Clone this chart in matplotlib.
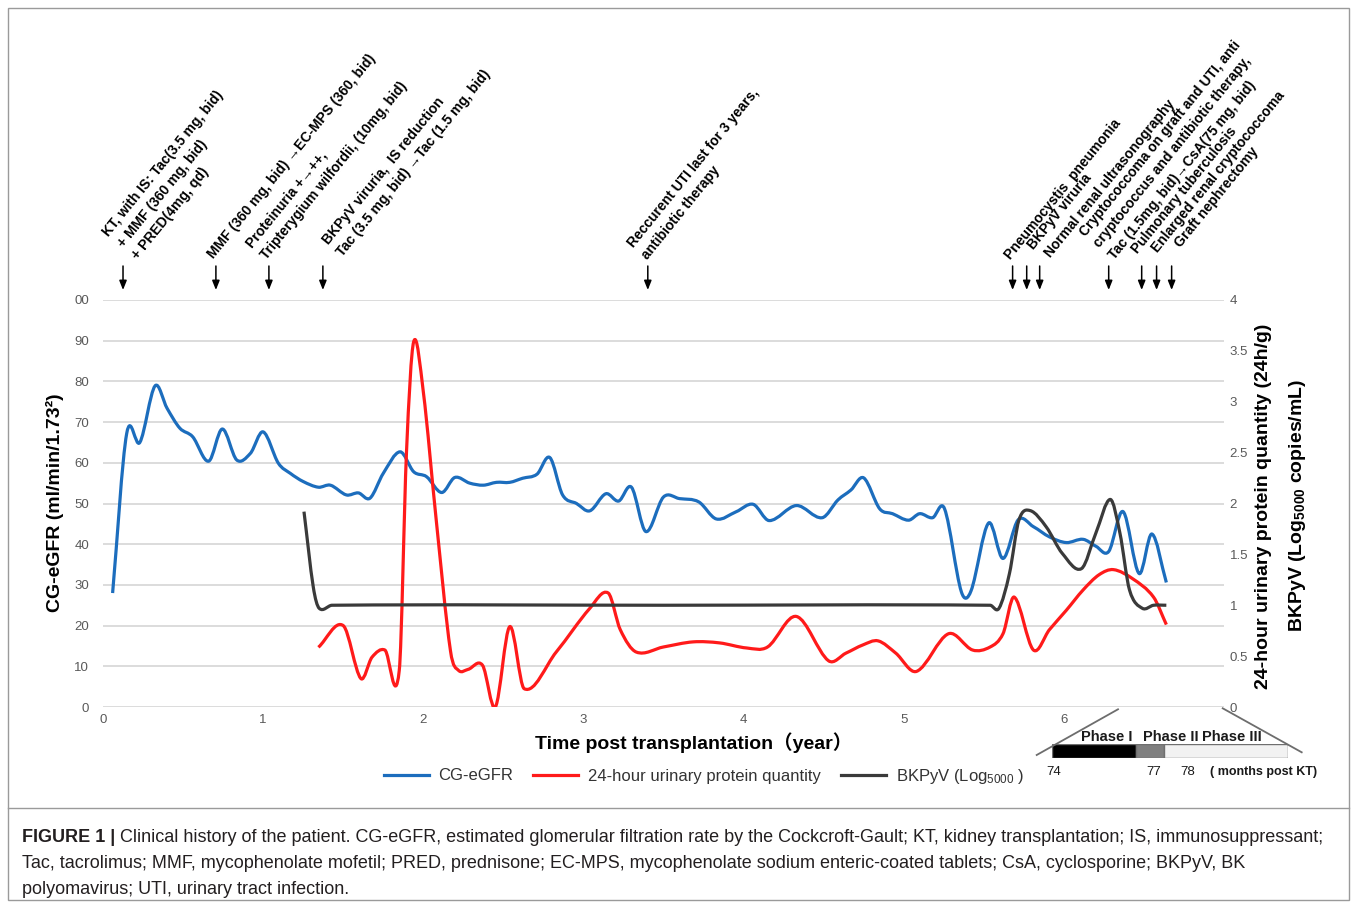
import matplotlib
matplotlib.use('Agg')
import matplotlib.pyplot as plt
import matplotlib.transforms as mtransforms
from matplotlib.path import Path
from matplotlib.patches import PathPatch, Rectangle
from matplotlib.lines import Line2D
import numpy as np

plt.rcParams['font.family'] = ['Liberation Sans', 'DejaVu Sans']
plt.rcParams['mathtext.fontset'] = 'custom'
plt.rcParams['mathtext.rm'] = 'Liberation Sans'
plt.rcParams['mathtext.bf'] = 'Liberation Sans:bold'
plt.rcParams['mathtext.it'] = 'Liberation Sans:italic'

# ---------------- data ----------------
egfr_years = [0.06, 0.148, 0.23, 0.325, 0.40, 0.48, 0.56, 0.66, 0.745, 0.835, 0.92, 1.0,
              1.095, 1.17, 1.25, 1.345, 1.42, 1.52, 1.595, 1.667, 1.75, 1.855, 1.94, 2.02,
              2.115, 2.197, 2.29, 2.375, 2.457, 2.54, 2.62, 2.71, 2.79, 2.87, 2.957, 3.04,
              3.14, 3.22, 3.30, 3.39, 3.50, 3.60, 3.72, 3.83, 3.955, 4.06, 4.16, 4.33,
              4.49, 4.59, 4.67, 4.75, 4.85, 4.93, 5.03, 5.10, 5.18, 5.255, 5.36, 5.42,
              5.53, 5.62, 5.715, 5.81, 5.91, 6.015, 6.12, 6.20, 6.28, 6.37, 6.47, 6.55, 6.64]
egfr_values = [28, 67.2, 65, 78.9, 73.4, 68.5, 66.4, 60.4, 68.3, 60.7, 62.3, 67.6,
               59.9, 57.4, 55.4, 54, 54.5, 52.1, 52.6, 51.3, 57.4, 62.7, 57.8, 56.6,
               52.7, 56.4, 55, 54.5, 55.2, 55.2, 56.2, 57.2, 61.3, 52.1, 50, 48.2,
               52.4, 50.6, 54, 43.1, 51.6, 51.2, 50.4, 46.2, 48, 49.8, 45.8, 49.5,
               46.5, 50.9, 53.3, 56.3, 48.7, 47.5, 45.9, 47.5, 46.5, 48.7, 28.3, 28.5,
               45.2, 36.5, 46, 44.3, 41.8, 40.4, 41.2, 39.5, 38.2, 48, 32.8, 42.5, 30.6]

protein_years = [1.345, 1.50, 1.61, 1.68, 1.76, 1.85, 1.895, 1.94, 2.0, 2.08, 2.17, 2.22,
                 2.28, 2.37, 2.45, 2.54, 2.63, 2.83, 3.04, 3.155, 3.23, 3.33, 3.50, 3.685,
                 3.85, 4.02, 4.15, 4.33, 4.53, 4.64, 4.745, 4.84, 4.95, 5.08, 5.28, 5.43,
                 5.54, 5.62, 5.69, 5.81, 5.91, 6.015, 6.12, 6.22, 6.31, 6.43, 6.56, 6.64]
protein_values = [0.587, 0.80, 0.28, 0.49, 0.56, 0.36, 2.5, 3.59, 3.1, 1.85, 0.55, 0.36,
                  0.37, 0.41, 0.0, 0.79, 0.18, 0.54, 0.97, 1.12, 0.76, 0.54, 0.59, 0.64,
                  0.63, 0.58, 0.59, 0.89, 0.455, 0.53, 0.61, 0.65, 0.53, 0.35, 0.72, 0.56,
                  0.59, 0.72, 1.08, 0.56, 0.76, 0.95, 1.15, 1.30, 1.35, 1.26, 1.08, 0.81]

bkpyv_years = [1.255, 1.313, 1.35, 1.43, 3.5, 5.54, 5.595, 5.66, 5.72, 5.79, 5.89, 5.99,
               6.11, 6.20, 6.29, 6.35, 6.41, 6.49, 6.56, 6.64]
bkpyv_values = [1.92, 1.18, 0.97, 1.0, 1.0, 1.0, 0.97, 1.31, 1.84, 1.93, 1.77, 1.51,
                1.36, 1.71, 2.04, 1.71, 1.15, 0.97, 1.0, 1.0]

x_ticks = [0, 1, 2, 3, 4, 5, 6]
left_ticks = [0, 10, 20, 30, 40, 50, 60, 70, 80, 90, 100]
left_tick_labels = ['0', '10', '20', '30', '40', '50', '60', '70', '80', '90', '00']
right_ticks = [0, 0.5, 1, 1.5, 2, 2.5, 3, 3.5, 4]
right_tick_labels = ['0', '0.5', '1', '1.5', '2', '2.5', '3', '3.5', '4']

event_years = [0.125, 0.705, 1.036, 1.373, 3.402, 5.680, 5.768, 5.849, 6.280, 6.486, 6.579, 6.673]
event_labels = [
    "KT, with IS: Tac(3.5 mg, bid)\n+ MMF (360 mg, bid)\n+ PRED(4mg, qd)",
    "MMF (360 mg, bid) \u2192EC-MPS (360, bid)",
    "Proteinuria +\u2192++,\nTripterygium wilfordii, (10mg, bid)",
    "BKPyV viruria,  IS reduction\nTac (3.5 mg, bid) \u2192Tac (1.5 mg, bid)",
    "Reccurent UTI last for 3 years,\nantibiotic therapy",
    "Pneumocystis  pneumonia",
    "BKPyV viruria",
    "Normal renal ultrasonography",
    "Cryptococcoma on graft and UTI, anti\ncryptococcus and antibiotic therapy,\nTac (1.5mg, bid)\u2192CsA(75 mg, bid)",
    "Pulmonary tuberculosis",
    "Enlarged renal cryptococcoma",
    "Graft nephrectomy",
]

phase_bounds = [74, 77, 78, 82.4]
phase_names = ['Phase I', 'Phase II', 'Phase III']
month_labels = ['74', '77', '78']

series_names = ['CG-eGFR', '24-hour urinary protein quantity', 'BKPyV (Log$_{5000}$ )']

caption_bold = 'FIGURE 1 |'
caption_lines = [
    " Clinical history of the patient. CG-eGFR, estimated glomerular filtration rate by the Cockcroft-Gault; KT, kidney transplantation; IS, immunosuppressant;",
    "Tac, tacrolimus; MMF, mycophenolate mofetil; PRED, prednisone; EC-MPS, mycophenolate sodium enteric-coated tablets; CsA, cyclosporine; BKPyV, BK",
    "polyomavirus; UTI, urinary tract infection.",
]

# ---------------- styling ----------------
BLUE = '#1c6dbd'
RED = '#ff1a1a'
DARK = '#3a3a3a'
GRID = '#d9d9d9'
TICK = '#595959'

W, H = 1357, 908
fig = plt.figure(figsize=(W / 100, H / 100), dpi=100)


def fx(px):
    return px / W


def fy(py):
    return 1 - py / H


def smooth_path(x, y):
    x = np.asarray(x, float)
    y = np.asarray(y, float)
    n = len(x)
    m = np.zeros(n)
    for i in range(n):
        if i == 0:
            m[i] = (y[1] - y[0]) / (x[1] - x[0])
        elif i == n - 1:
            m[i] = (y[-1] - y[-2]) / (x[-1] - x[-2])
        else:
            m[i] = (y[i + 1] - y[i - 1]) / (x[i + 1] - x[i - 1])
    verts = [(x[0], y[0])]
    codes = [Path.MOVETO]
    for i in range(n - 1):
        h = x[i + 1] - x[i]
        verts += [(x[i] + h / 3, y[i] + m[i] * h / 3),
                  (x[i + 1] - h / 3, y[i + 1] - m[i + 1] * h / 3),
                  (x[i + 1], y[i + 1])]
        codes += [Path.CURVE4] * 3
    return Path(verts, codes)


ax = fig.add_axes([fx(103), fy(707), (1224 - 103) / W, (707 - 300) / H])
ax.set_xlim(0, 7)
ax.set_ylim(0, 100)
ax2 = ax.twinx()
ax2.set_ylim(0, 4)

for a in (ax, ax2):
    for s in a.spines.values():
        s.set_visible(False)
    a.tick_params(length=0)

ax.set_axisbelow(True)
ax.yaxis.grid(True, color=GRID, lw=1.3)
ax.set_xticks(x_ticks)
ax.set_xticklabels([str(v) for v in x_ticks])
ax.set_yticks(left_ticks)
ax.set_yticklabels(left_tick_labels)
ax.tick_params(axis='y', pad=10, labelsize=9.5, labelcolor=TICK)
ax.tick_params(axis='x', pad=5, labelsize=9.5, labelcolor=TICK)
ax2.set_yticks(right_ticks)
ax2.set_yticklabels(right_tick_labels)
ax2.tick_params(axis='y', pad=4, labelsize=9.5, labelcolor=TICK)

lw = 2.3
ax.add_patch(PathPatch(smooth_path(egfr_years, egfr_values), fill=False, edgecolor=BLUE,
                       lw=lw, capstyle='butt', joinstyle='round', zorder=3))
ax2.add_patch(PathPatch(smooth_path(protein_years, protein_values), fill=False, edgecolor=RED,
                        lw=lw, capstyle='butt', joinstyle='round', zorder=3))
ax2.add_patch(PathPatch(smooth_path(bkpyv_years, bkpyv_values), fill=False, edgecolor=DARK,
                        lw=lw, capstyle='butt', joinstyle='round', zorder=4))

# axis labels
fig.text(fx(55), fy(503), 'CG-eGFR (ml/min/1.73\u00b2)', rotation=90, ha='center', va='center',
         fontsize=14, fontweight='bold')
fig.text(fx(1263), fy(506), '24-hour urinary protein quantity (24h/g)', rotation=90,
         ha='center', va='center', fontsize=14, fontweight='bold')
fig.text(fx(1298), fy(505), r'BKPyV (Log$_{\mathbf{5000}}$ copies/mL)', rotation=90,
         ha='center', va='center', fontsize=14, fontweight='bold')
fig.text(fx(694), fy(743), 'Time post transplantation\uff08year\uff09', ha='center', va='center',
         fontsize=14, fontweight='bold', family=['Liberation Sans', 'Noto Sans CJK SC'])

# event arrows and labels
blend = mtransforms.blended_transform_factory(ax.transData, ax.transAxes)
axes_h = 407.0
label_dx = [17, 0, 0, 22, 2, 0, 9, 13, 8, -2, 3, 11]
label_dy = [38, 39, 38, 41, 38, 38, 48, 40, 38, 44, 45, 50]
for t, lab, dx, dy in zip(event_years, event_labels, label_dx, label_dy):
    ax.annotate('', xy=(t, 1 + 10 / axes_h), xytext=(t, 1 + 34 / axes_h),
                xycoords=blend, textcoords=blend, annotation_clip=False,
                arrowprops=dict(arrowstyle='-|>,head_length=0.55,head_width=0.22',
                                color='black', lw=1.1, shrinkA=0, shrinkB=0))
    ax.annotate(lab, xy=(t, 1), xycoords=blend, xytext=(dx, dy), textcoords='offset pixels',
                rotation=51, rotation_mode='anchor', ha='left', va='bottom',
                fontsize=10, fontweight='bold', linespacing=1.4, annotation_clip=False,
                family=['Liberation Sans', 'DejaVu Sans'])

# legend
handles = [Line2D([], [], color=c, lw=lw) for c in (BLUE, RED, DARK)]
leg = fig.legend(handles, series_names, loc='center', bbox_to_anchor=(fx(704), fy(776)),
                 ncol=3, frameon=False, fontsize=12, handlelength=2.7, handletextpad=0.6,
                 columnspacing=1.2)
for txt in leg.get_texts():
    txt.set_color('#333333')

# phase inset bar
axp = fig.add_axes([fx(1052), fy(758), 236 / W, 14 / H])
axp.set_xlim(phase_bounds[0], phase_bounds[-1])
axp.set_ylim(0, 1)
axp.axis('off')
phase_colors = ['#000000', '#808080', '#f2f2f2']
for i in range(3):
    axp.barh(0.5, phase_bounds[i + 1] - phase_bounds[i], left=phase_bounds[i], height=1,
             color=phase_colors[i], edgecolor='#6f6f6f', lw=1)
for name, px in zip(phase_names, [1107, 1171, 1232]):
    fig.text(fx(px), fy(737), name, ha='center', va='center', fontsize=10.5, fontweight='bold',
             color='#1a1a1a')
for lab, px in zip(month_labels, [1054, 1154, 1188]):
    fig.text(fx(px), fy(772), lab, ha='center', va='center', fontsize=9.5, color='#1a1a1a')
fig.text(fx(1264), fy(772), '( months post KT)', ha='center', va='center', fontsize=9,
         fontweight='bold', color='#1a1a1a')
fig.add_artist(Line2D([fx(1036.7), fx(1118)], [fy(755), fy(709.3)], transform=fig.transFigure,
                      color='#6d6d6d', lw=1.3))
fig.add_artist(Line2D([fx(1222.7), fx(1301.7)], [fy(708.3), fy(752.3)], transform=fig.transFigure,
                      color='#6d6d6d', lw=1.3))

# frame and caption separator
fig.add_artist(Rectangle((fx(8), fy(900)), (1349 - 8) / W, (900 - 8) / H, transform=fig.transFigure,
                         fill=False, edgecolor='#9a9a9a', lw=1))
fig.add_artist(Line2D([fx(8), fx(1349)], [fy(808), fy(808)], transform=fig.transFigure,
                      color='#9a9a9a', lw=1))

# caption
cap_fs = 13
renderer = fig.canvas.get_renderer()
tb = fig.text(fx(22), fy(837), caption_bold, ha='left', va='center', fontsize=cap_fs,
              fontweight='bold', color='#231f20')
bb = tb.get_window_extent(renderer)
fig.text(bb.x1 / W, fy(837), caption_lines[0], ha='left', va='center', fontsize=cap_fs,
         color='#231f20')
fig.text(fx(22), fy(864), caption_lines[1], ha='left', va='center', fontsize=cap_fs, color='#231f20')
fig.text(fx(22), fy(889), caption_lines[2], ha='left', va='center', fontsize=cap_fs, color='#231f20')

fig.savefig('out.png', dpi=100)
